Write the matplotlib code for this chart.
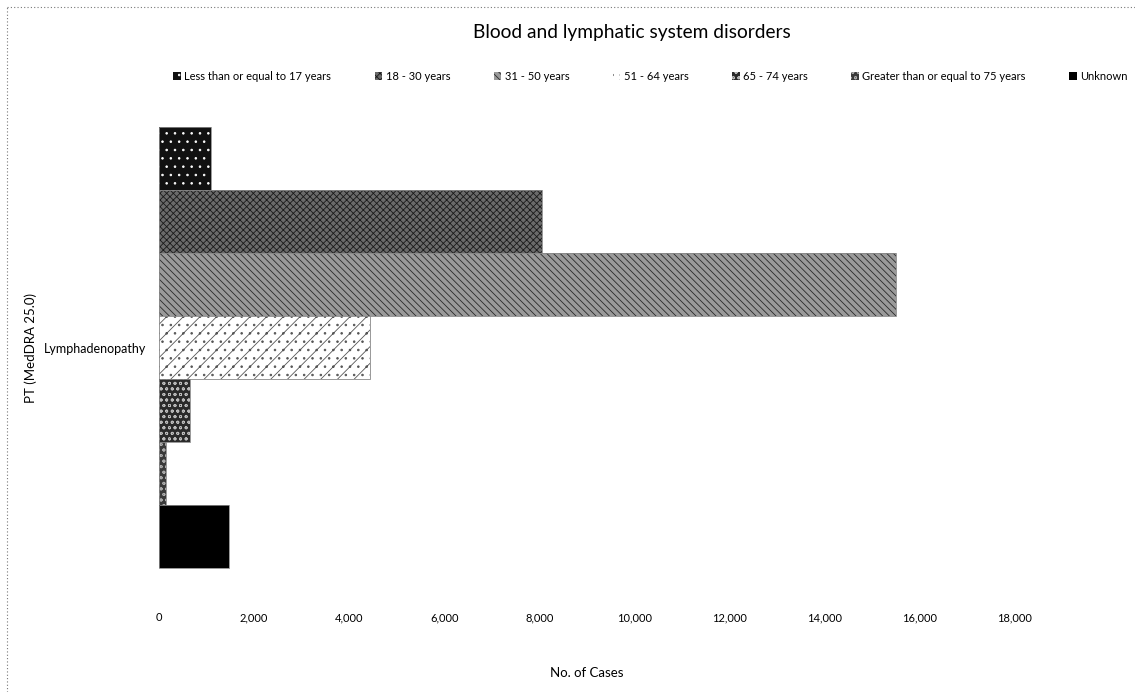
import matplotlib.pyplot as plt
from matplotlib.lines import Line2D

# data
term = "Lymphadenopathy"
age_groups = [
    "Less than or equal to 17 years",
    "18 - 30 years",
    "31 - 50 years",
    "51 - 64 years",
    "65 - 74 years",
    "Greater than or equal to 75 years",
    "Unknown",
]
cases = [1100, 8050, 15500, 4450, 650, 150, 1470]

# grey-scale pattern fills (face, hatch colour, hatch)
faces = ["#111111", "#6a6a6a", "#9a9a9a", "white", "#2a2a2a", "#3a3a3a", "black"]
hatch_colors = ["white", "#1a1a1a", "#2a2a2a", "#555555", "#bbbbbb", "#aaaaaa", "black"]
hatches = ["..", "xxxxx", "\\\\\\\\\\", "//..", "ooo", "ooo", ""]
tick_values = [0, 2000, 4000, 6000, 8000, 10000, 12000, 14000, 16000, 18000]
tick_labels = ["0", "2,000", "4,000", "6,000", "8,000", "10,000", "12,000", "14,000", "16,000", "18,000"]

plt.rcParams["font.family"] = ["Lato", "DejaVu Sans"]
plt.rcParams["hatch.linewidth"] = 0.6

fig = plt.figure(figsize=(11.35, 6.92), dpi=100)
ax = fig.add_axes([0.140, 0.147, 0.754, 0.701])

n = len(cases)
h = 0.909 / n
for i, (grp, val) in enumerate(zip(age_groups, cases)):
    y = 0.4545 - h * (i + 0.5)
    ax.barh(y, val, height=h, color=faces[i], edgecolor=hatch_colors[i],
            hatch=hatches[i], linewidth=0, label=grp)
    # thin grey outline like the original
    ax.barh(y, val, height=h, fill=False, edgecolor="#888888", linewidth=0.6)

ax.set_xlim(0, 18000)
ax.set_ylim(-0.5, 0.5)
ax.set_xticks(tick_values)
ax.set_xticklabels(tick_labels, fontsize=8)
ax.set_yticks([0])
ax.set_yticklabels([term], fontsize=9)
ax.tick_params(length=0, axis="x", pad=16)
ax.tick_params(length=0, axis="y", pad=9)
for s in ax.spines.values():
    s.set_visible(False)

ax.set_xlabel("No. of Cases", fontsize=9.5, labelpad=31)
ax.set_ylabel("PT (MedDRA 25.0)", fontsize=9.5)
ax.yaxis.set_label_coords(-0.143, 0.5)

fig.text(0.557, 0.953, "Blood and lymphatic system disorders", ha="center", va="center",
         fontsize=13.8)

handles, labels = ax.get_legend_handles_labels()
leg = fig.legend(handles[:n], labels[:n], loc="center", ncol=n,
                 bbox_to_anchor=(0.573, 0.89), frameon=False, fontsize=8,
                 handlelength=0.7, handleheight=0.7, handletextpad=0.3,
                 columnspacing=3.9)

# dotted chart-area border (top and left visible)
fig.add_artist(Line2D([0.006, 1.0], [0.990, 0.990], transform=fig.transFigure,
                      color="#777777", linestyle=(0, (1, 2)), linewidth=0.8))
fig.add_artist(Line2D([0.006, 0.006], [0.0, 0.990], transform=fig.transFigure,
                      color="#777777", linestyle=(0, (1, 2)), linewidth=0.8))

fig.savefig("out.png", dpi=100)
